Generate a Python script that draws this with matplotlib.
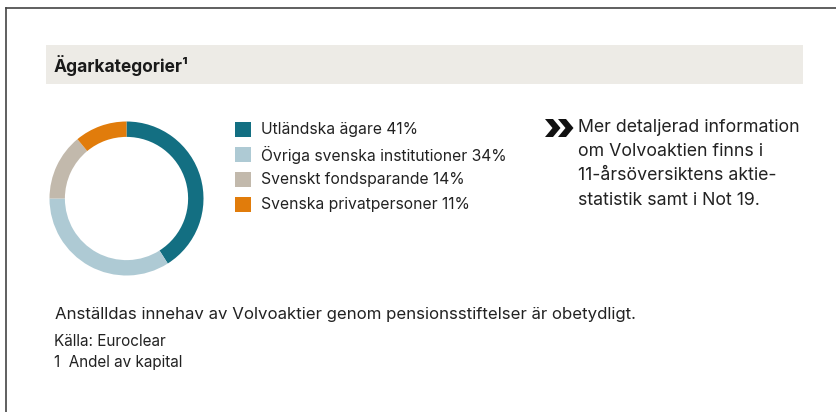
import matplotlib.pyplot as plt
from matplotlib.patches import Rectangle, Polygon

plt.rcParams['font.family'] = ['Inter', 'DejaVu Sans']

W, H = 836, 412

categories = ['Utländska ägare', 'Övriga svenska institutioner',
              'Svenskt fondsparande', 'Svenska privatpersoner']
shares = [41, 34, 14, 11]
colors = ['#136f82', '#aecad4', '#c2b9ac', '#e17c0b']

title = 'Ägarkategorier¹'
info_lines = ['Mer detaljerad information', 'om Volvoaktien finns i',
              '11-årsöversiktens aktie-', 'statistik samt i Not 19.']
note = 'Anställdas innehav av Volvoaktier genom pensionsstiftelser är obetydligt.'
source = 'Källa: Euroclear'
footnote = '1  Andel av kapital'

fig = plt.figure(figsize=(W / 100, H / 100), dpi=100)
fig.patch.set_facecolor('white')

# background layer in pixel coordinates
bg = fig.add_axes([0, 0, 1, 1])
bg.set_xlim(0, W)
bg.set_ylim(H, 0)
bg.axis('off')

# frame: top and left rule
bg.plot([5.5, W], [7.5, 7.5], color='#444444', lw=1.2)
bg.plot([5.5, 5.5], [7.5, H], color='#444444', lw=1.2)

# header band
bg.add_patch(Rectangle((46, 45), 757, 38.5, color='#edebe6', lw=0))
bg.text(54, 65, title, fontsize=12.5, fontweight='bold', color='#1a1a1a',
        va='center', ha='left')

# donut
cx, cy, r = 126.5, 198.5, 77
pax = fig.add_axes([(cx - r) / W, 1 - (cy + r) / H, 2 * r / W, 2 * r / H])
pax.pie(shares, colors=colors, startangle=90, counterclock=False,
        wedgeprops=dict(width=0.2, linewidth=0))
pax.set_xlim(-1, 1)
pax.set_ylim(-1, 1)
pax.set_aspect('equal')
pax.axis('off')

# legend
for i, (cat, val, col) in enumerate(zip(categories, shares, colors)):
    y = 129.5 + i * 25
    bg.add_patch(Rectangle((235, y - 7.5), 15.5, 15, color=col, lw=0))
    bg.text(261, y, f'{cat} {val}%', fontsize=11.3, color='#222222',
            va='center', ha='left')

# double chevron
for dx in (0, 13):
    x0 = 545 + dx
    bg.add_patch(Polygon([(x0, 119), (x0 + 8, 119), (x0 + 15.5, 128),
                          (x0 + 8, 137), (x0, 137), (x0 + 7.5, 128)],
                         closed=True, color='#111111', lw=0))

for i, line in enumerate(info_lines):
    bg.text(578, 127 + i * 24.4, line, fontsize=12.75, color='#222222',
            va='center', ha='left')

bg.text(55, 315, note, fontsize=12.1, color='#222222', va='center', ha='left')
bg.text(54, 341, source, fontsize=11, color='#222222', va='center', ha='left')
bg.text(54, 363, footnote, fontsize=11, color='#222222', va='center', ha='left')

fig.savefig('out.png', dpi=100)
